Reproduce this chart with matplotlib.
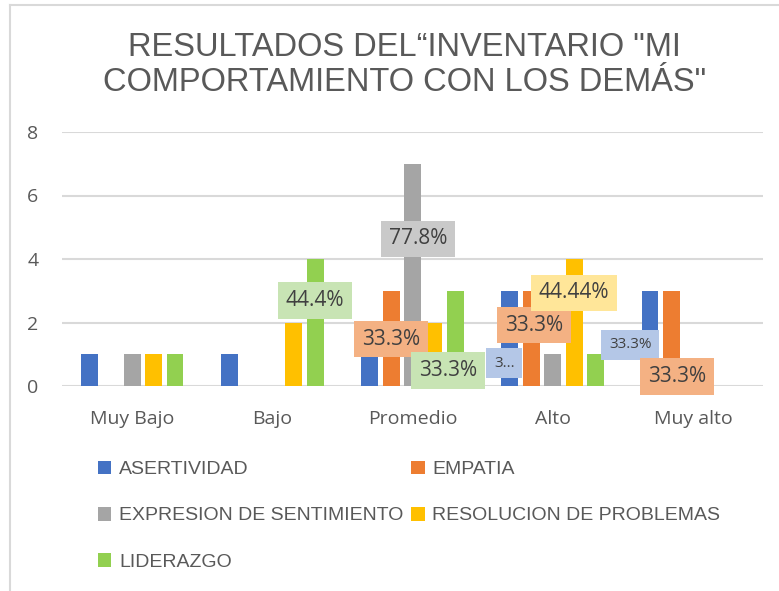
import matplotlib
matplotlib.use("Agg")
import matplotlib.pyplot as plt
import numpy as np
from matplotlib.lines import Line2D

categories = ["Muy Bajo", "Bajo", "Promedio", "Alto", "Muy alto"]
series_names = ["ASERTIVIDAD", "EMPATIA", "EXPRESION DE SENTIMIENTO",
                "RESOLUCION DE PROBLEMAS", "LIDERAZGO"]
asertividad = [1, 1, 1, 3, 3]
empatia = [0, 0, 3, 3, 3]
expresion = [1, 0, 7, 1, 0]
resolucion = [1, 2, 2, 4, 0]
liderazgo = [1, 4, 3, 1, 0]
yticks = [0, 2, 4, 6, 8]
title = 'RESULTADOS DEL“INVENTARIO "MI\nCOMPORTAMIENTO CON LOS DEMÁS"'

label_series = [4, 2, 1, 4, 0, 1, 3, 0, 1]
label_cats = [1, 2, 2, 2, 3, 3, 3, 4, 4]
label_texts = ["44.4%", "77.8%", "33.3%", "33.3%", "3...", "33.3%", "44.44%", "33.3%", "33.3%"]
label_y = [2.7, 4.63, 1.48, 0.5, 0.72, 1.92, 2.93, 1.3, 0.3]
label_dx = [0.0, 0.04, 0.0, -0.05, -0.04, 0.02, 0.0, -0.14, 0.04]
label_fs = [15, 15, 15, 15, 11, 15, 15, 11, 15]

colors = ["#4472C4", "#ED7D31", "#A5A5A5", "#FFC000", "#92D050"]
box_colors = ["#B4C7E7", "#F4B183", "#C9C9C9", "#FFE699", "#C8E4B4"]
values = [asertividad, empatia, expresion, resolucion, liderazgo]

fam = ["Liberation Sans", "DejaVu Sans"]
fam2 = ["Open Sans", "DejaVu Sans"]

fig = plt.figure(figsize=(7.79, 5.91), dpi=100)
ax = fig.add_axes([62/779, 1-386/591, 701/779, 254/591])

x = np.arange(len(categories))
step = 0.153
width = 0.121
for i, (vals, c) in enumerate(zip(values, colors)):
    ax.bar(x + (i - 2) * step, vals, width, color=c, label=series_names[i], zorder=3)

for s, ci, t, yy, dx, fs in zip(label_series, label_cats, label_texts, label_y, label_dx, label_fs):
    xx = ci + (s - 2) * step + dx
    pad = 0.38 if fs > 12 else 0.5
    ax.text(xx, yy, t, ha="center", va="center", fontsize=fs, color="#404040",
            family=fam2, zorder=5,
            bbox=dict(boxstyle=f"square,pad={pad}", fc=box_colors[s], ec="none"))

ax.set_xlim(-0.5, 4.5)
ax.set_ylim(0, 8)
ax.set_yticks(yticks)
ax.set_xticks(x)
ax.set_xticklabels(categories)
for sp in ax.spines.values():
    sp.set_visible(False)
ax.grid(axis="y", color="#D9D9D9", linewidth=1.5, zorder=0)
ax.set_axisbelow(True)
ax.tick_params(axis="both", length=0, labelsize=14, labelcolor="#595959")
ax.tick_params(axis="x", pad=17)
ax.tick_params(axis="y", pad=17)
for lbl in ax.get_xticklabels() + ax.get_yticklabels():
    lbl.set_family(fam2)

fig.text(0.519, 1-65/591, title, ha="center", va="center", fontsize=23.5,
         color="#595959", family=fam, linespacing=1.14)

h, l = ax.get_legend_handles_labels()
order = [0, 2, 4, 1, 3]
leg = fig.legend([h[i] for i in order], [l[i] for i in order], loc="upper left",
                 bbox_to_anchor=(80/779, 1-443/591), ncol=2, frameon=False,
                 prop=dict(family=fam, size=14), labelcolor="#595959",
                 handlelength=0.7, handleheight=0.7, handletextpad=0.4,
                 columnspacing=0.4, labelspacing=1.48)

fig.add_artist(Line2D([10/779, 1], [1-5/591, 1-5/591], transform=fig.transFigure,
                      color="#D9D9D9", lw=1.5))
fig.add_artist(Line2D([10/779, 10/779], [0, 1-5/591], transform=fig.transFigure,
                      color="#D9D9D9", lw=1.5))

fig.savefig("out.png", dpi=100)
